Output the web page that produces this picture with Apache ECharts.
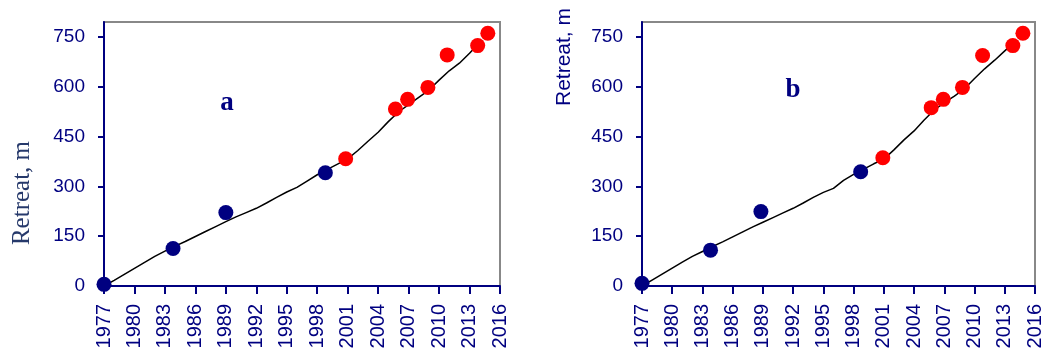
<!DOCTYPE html>
<html>
<head>
<meta charset="utf-8">
<script src="https://cdn.jsdelivr.net/npm/echarts@6/dist/echarts.min.js"></script>
<style>
  html, body { margin: 0; padding: 0; background: #fff; }
</style>
</head>
<body>
<div id="myChart" style="width: 1045px; height: 354px;"></div>
<script>
// tick labels
var xTicks = [1977, 1980, 1983, 1986, 1989, 1992, 1995, 1998, 2001, 2004, 2007, 2010, 2013, 2016];
var yTicks = [0, 150, 300, 450, 600, 750];

// black trend line (per year)
var lineYears = [1977, 1978, 1979, 1980, 1981, 1982, 1983, 1984, 1985, 1986, 1987, 1988, 1989, 1990, 1991, 1992, 1993, 1994, 1995, 1996, 1997, 1998, 1999, 2000, 2001, 2002, 2003, 2004, 2005, 2006, 2007, 2008, 2009, 2010, 2011, 2012, 2013, 2014];
var lineA = [0, 17, 35, 53, 71, 89, 105, 120, 134, 149, 164, 179, 194, 208, 221, 234, 250, 267, 283, 297, 316, 335, 351, 367, 383, 408, 436, 463, 495, 524, 546, 568, 590, 620, 648, 671, 701, 733];
var lineB = [0, 18, 36, 54, 72, 89, 104, 119, 133, 148, 163, 178, 192, 206, 220, 234, 250, 267, 282, 294, 318, 336, 352, 368, 382, 410, 440, 467, 500, 530, 552, 572, 594, 625, 654, 680, 708, 735];

// observed points, panel a
var blueYearsA = [1977, 1983.8, 1989, 1998.8];
var blueValsA = [5, 113, 221, 341];
var redYearsA = [2000.8, 2005.7, 2006.9, 2008.9, 2010.8, 2013.8, 2014.8];
var redValsA = [383, 533, 562, 598, 696, 724, 761];

// observed points, panel b
var blueYearsB = [1977, 1983.8, 1988.8, 1998.7];
var blueValsB = [8, 108, 224, 344];
var redYearsB = [2000.9, 2005.7, 2006.9, 2008.8, 2010.8, 2013.8, 2014.8];
var redValsB = [386, 537, 562, 598, 694, 724, 761];

function pairs(xs, ys) {
  var out = [];
  for (var i = 0; i < xs.length; i++) {
    out.push([xs[i], ys[i]]);
  }
  return out;
}

var navy = "#000080";

function xAxisFor(idx) {
  return {
    type: "value",
    gridIndex: idx,
    min: 1977,
    max: 2016,
    interval: 3,
    splitLine: { show: false },
    axisLine: { lineStyle: { color: navy, width: 2 } },
    axisTick: { length: 8, inside: false, lineStyle: { color: navy, width: 2 } },
    axisLabel: {
      rotate: 90,
      margin: 18,
      color: navy,
      fontFamily: "Liberation Sans",
      fontSize: 20,
      customValues: xTicks,
      formatter: function(v) {
        return String(v);
      }
    }
  };
}

function yAxisFor(idx) {
  return {
    type: "value",
    gridIndex: idx,
    min: 0,
    max: 795,
    splitLine: { show: false },
    axisLine: { show: true, lineStyle: { color: navy, width: 2 } },
    axisTick: { show: true, length: 6, customValues: yTicks, lineStyle: { color: navy, width: 2 } },
    axisLabel: {
      margin: 19,
      color: navy,
      fontFamily: "Liberation Sans",
      fontSize: 19,
      customValues: yTicks
    }
  };
}

function lineSeries(idx, vals) {
  return {
    type: "line",
    xAxisIndex: idx,
    yAxisIndex: idx,
    data: pairs(lineYears, vals),
    symbol: "none",
    smooth: false,
    lineStyle: { color: "#000", width: 1.5 },
    z: 2
  };
}

function dotSeries(idx, xs, ys, color) {
  return {
    type: "scatter",
    xAxisIndex: idx,
    yAxisIndex: idx,
    data: pairs(xs, ys),
    symbolSize: 15,
    itemStyle: { color: color, opacity: 1 },
    z: 3
  };
}

var myChart = echarts.init(document.getElementById("myChart"));

var option = {
  animation: false,
  grid: [
    { left: 104, top: 22, width: 396, height: 264, show: true, borderColor: "#888", borderWidth: 2, backgroundColor: "#fff" },
    { left: 642, top: 22, width: 400, height: 264, show: true, borderColor: "#888", borderWidth: 2, backgroundColor: "#fff" }
  ],
  xAxis: [xAxisFor(0), xAxisFor(1)],
  yAxis: [yAxisFor(0), yAxisFor(1)],
  graphic: [
    {
      type: "text",
      x: 22, y: 193, rotation: Math.PI / 2,
      style: { text: "Retreat, m", fill: "#26396b", font: "25px 'Liberation Serif'", align: "center", verticalAlign: "middle" }
    },
    {
      type: "text",
      x: 564, y: 57, rotation: Math.PI / 2,
      style: { text: "Retreat, m", fill: navy, font: "21px 'Liberation Sans'", align: "center", verticalAlign: "middle" }
    },
    {
      type: "text",
      x: 227, y: 103,
      style: { text: "a", fill: navy, font: "bold 27px 'Liberation Serif'", align: "center", verticalAlign: "middle" }
    },
    {
      type: "text",
      x: 793, y: 90,
      style: { text: "b", fill: navy, font: "bold 27px 'Liberation Serif'", align: "center", verticalAlign: "middle" }
    }
  ],
  series: [
    lineSeries(0, lineA),
    dotSeries(0, blueYearsA, blueValsA, navy),
    dotSeries(0, redYearsA, redValsA, "#ff0000"),
    lineSeries(1, lineB),
    dotSeries(1, blueYearsB, blueValsB, navy),
    dotSeries(1, redYearsB, redValsB, "#ff0000")
  ]
};
myChart.setOption(option);
</script>
</body>
</html>
